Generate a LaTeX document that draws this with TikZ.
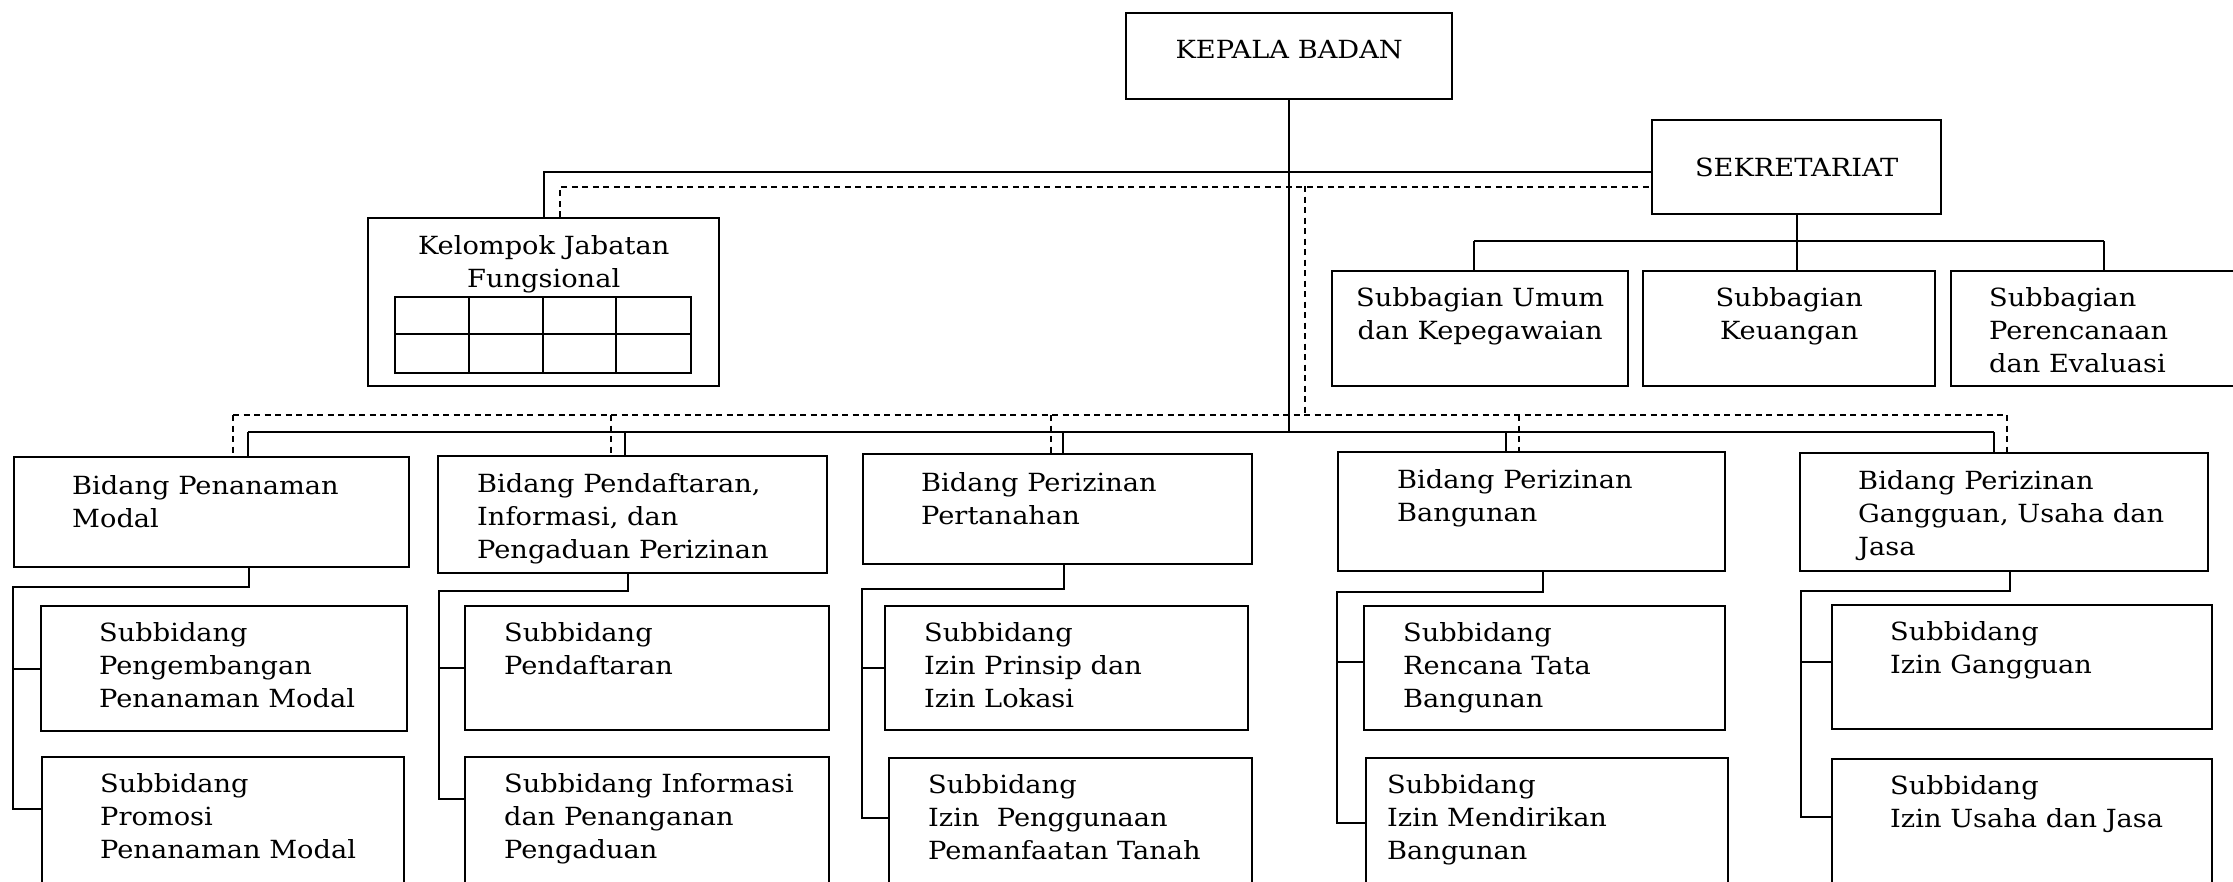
\documentclass[tikz,border=0pt]{standalone}
\usepackage{fontspec}
\setmainfont{DejaVu Serif}[FakeStretch=1.09]
\usetikzlibrary{positioning, calc}
\tikzstyle{kotak} = [rectangle, draw=black, line width=2.4pt, anchor=north west, inner sep=0pt]
\tikzstyle{isi} = [anchor=north west, align=left, inner sep=0pt, font=\fontsize{25}{33}\selectfont]
\tikzstyle{tengah} = [anchor=north, align=center, inner sep=0pt, font=\fontsize{25}{33}\selectfont]
\tikzstyle{garis} = [line width=2pt]
\tikzstyle{putus} = [line width=2pt, dash pattern=on 6pt off 4.5pt]

\begin{document}
\begin{tikzpicture}[x=1pt, y=-1pt]
    \useasboundingbox (0,0) rectangle (2233,881);

    % pimpinan
    \node (kb) [kotak, minimum width=326pt, minimum height=86pt, font=\fontsize{25}{33}\selectfont, text height=18pt, text depth=14pt] at (1125,12) {KEPALA BADAN};
    \node (sek) [kotak, minimum width=289pt, minimum height=94pt, font=\fontsize{25}{33}\selectfont] at (1651,119) {SEKRETARIAT};

    % kelompok jabatan fungsional
    \node (kjf) [kotak, minimum width=351pt, minimum height=168pt] at (367,217) {};
    \node (kjfT) [tengah] at ($(kjf.north)+(0,18)$) {Kelompok Jabatan\\Fungsional};
    \draw[line width=2.4pt] (395,297) rectangle (691,373);
    \draw[line width=2pt] (395,334) -- (691,334);
    \foreach \x in {469,543,616}
        \draw[line width=2pt] (\x,297) -- (\x,373);

    % subbagian
    \node (sbu) [kotak, minimum width=296pt, minimum height=115pt] at (1331,270) {};
    \node (sbuT) [tengah] at ($(sbu.north)+(0,17)$) {Subbagian Umum\\dan Kepegawaian};
    \node (sbk) [kotak, minimum width=292pt, minimum height=115pt] at (1642,270) {};
    \node (sbkT) [tengah] at ($(sbk.north)+(0,17)$) {Subbagian\\Keuangan};
    \node (sbp) [kotak, minimum width=295pt, minimum height=115pt] at (1950,270) {};
    \node (sbpT) [isi] at ($(sbp.north west)+(39,17)$) {Subbagian\\Perencanaan\\dan Evaluasi};

    % bidang
    \node (bpm) [kotak, minimum width=395pt, minimum height=110pt] at (13,456) {};
    \node (bpmT) [isi] at ($(bpm.north west)+(59,19)$) {Bidang Penanaman\\Modal};
    \node (bpp) [kotak, minimum width=389pt, minimum height=117pt] at (437,455) {};
    \node (bppT) [isi] at ($(bpp.north west)+(40,18)$) {Bidang Pendaftaran,\\Informasi, dan\\Pengaduan Perizinan};
    \node (bpt) [kotak, minimum width=389pt, minimum height=110pt] at (862,453) {};
    \node (bptT) [isi] at ($(bpt.north west)+(59,19)$) {Bidang Perizinan\\Pertanahan};
    \node (bpb) [kotak, minimum width=387pt, minimum height=119pt] at (1337,451) {};
    \node (bpbT) [isi] at ($(bpb.north west)+(60,18)$) {Bidang Perizinan\\Bangunan};
    \node (bpg) [kotak, minimum width=408pt, minimum height=118pt] at (1799,452) {};
    \node (bpgT) [isi] at ($(bpg.north west)+(59,18)$) {Bidang Perizinan\\Gangguan, Usaha dan\\Jasa};

    % subbidang
    \node (sb11) [kotak, minimum width=366pt, minimum height=125pt] at (40,605) {};
    \node (sb11T) [isi] at ($(sb11.north west)+(59,17)$) {Subbidang\\Pengembangan\\Penanaman Modal};
    \node (sb12) [kotak, minimum width=362pt, minimum height=130pt] at (41,756) {};
    \node (sb12T) [isi] at ($(sb12.north west)+(59,17)$) {Subbidang\\Promosi\\Penanaman Modal};
    \node (sb21) [kotak, minimum width=364pt, minimum height=124pt] at (464,605) {};
    \node (sb21T) [isi] at ($(sb21.north west)+(40,17)$) {Subbidang\\Pendaftaran};
    \node (sb22) [kotak, minimum width=364pt, minimum height=130pt] at (464,756) {};
    \node (sb22T) [isi] at ($(sb22.north west)+(40,17)$) {Subbidang Informasi\\dan Penanganan\\Pengaduan};
    \node (sb31) [kotak, minimum width=363pt, minimum height=124pt] at (884,605) {};
    \node (sb31T) [isi] at ($(sb31.north west)+(40,17)$) {Subbidang\\Izin Prinsip dan\\Izin Lokasi};
    \node (sb32) [kotak, minimum width=363pt, minimum height=129pt] at (888,757) {};
    \node (sb32T) [isi] at ($(sb32.north west)+(40,17)$) {Subbidang\\Izin~ Penggunaan\\Pemanfaatan Tanah};
    \node (sb41) [kotak, minimum width=361pt, minimum height=124pt] at (1363,605) {};
    \node (sb41T) [isi] at ($(sb41.north west)+(40,17)$) {Subbidang\\Rencana Tata\\Bangunan};
    \node (sb42) [kotak, minimum width=362pt, minimum height=129pt] at (1365,757) {};
    \node (sb42T) [isi] at ($(sb42.north west)+(22,17)$) {Subbidang\\Izin Mendirikan\\Bangunan};
    \node (sb51) [kotak, minimum width=380pt, minimum height=124pt] at (1831,604) {};
    \node (sb51T) [isi] at ($(sb51.north west)+(59,17)$) {Subbidang\\Izin Gangguan};
    \node (sb52) [kotak, minimum width=380pt, minimum height=128pt] at (1831,758) {};
    \node (sb52T) [isi] at ($(sb52.north west)+(59,17)$) {Subbidang\\Izin Usaha dan Jasa};

    % garis komando
    \coordinate (g1) at (248,432);
    \coordinate (g2) at (625,432);
    \coordinate (g3) at (1063,432);
    \coordinate (g4) at (1506,432);
    \coordinate (g5) at (1994,432);
    \draw[garis] (kb.south) -- (kb.south |- g1);
    \draw[garis] (g1) -- (g5);
    \foreach \g/\b in {g1/bpm, g2/bpp, g3/bpt, g4/bpb, g5/bpg}
        \draw[garis] (\g) -- (\g |- \b.north);
    \draw[garis] (kjf.north) |- ([yshift=-5pt]sek.west);

    % garis koordinasi
    \coordinate (p1) at (233,415);
    \coordinate (p2) at (611,415);
    \coordinate (p3) at (1051,415);
    \coordinate (p4) at (1519,415);
    \coordinate (p5) at (2007,415);
    \coordinate (q) at (1305,186);
    \draw[putus] (p1) -- (p5);
    \foreach \p/\b in {p1/bpm, p2/bpp, p3/bpt, p4/bpb, p5/bpg}
        \draw[putus] (\p) -- (\p |- \b.north);
    \draw[putus] ([xshift=16pt]kjf.north) |- ([yshift=-20pt]sek.west);
    \draw[putus] (q) -- (q |- p1);

    % sekretariat
    \coordinate (s1) at (1474,241);
    \coordinate (s3) at (2104,241);
    \draw[garis] (sek.south) -- (sek.south |- sbk.north);
    \draw[garis] (s1) -- (s3);
    \draw[garis] (s1) -- (s1 |- sbu.north);
    \draw[garis] (s3) -- (s3 |- sbp.north);

    % bidang ke subbidang
    \draw[garis] ([xshift=37.5pt]bpm.south) |- (13,587) |- ([yshift=13pt]sb12.west);
    \draw[garis] (13,587) |- (sb11.west);
    \draw[garis] ([xshift=-4.5pt]bpp.south) |- (439,591) |- ([yshift=23pt]sb22.west);
    \draw[garis] (439,591) |- (sb21.west);
    \draw[garis] ([xshift=6.5pt]bpt.south) |- (862,589) |- ([yshift=5pt]sb32.west);
    \draw[garis] (862,589) |- (sb31.west);
    \draw[garis] ([xshift=11.5pt]bpb.south) |- (1337,592) |- (sb42.west);
    \draw[garis] (1337,592) |- ([yshift=6pt]sb41.west);
    \draw[garis] ([xshift=6pt]bpg.south) |- (1801,591) |- ([yshift=6pt]sb52.west);
    \draw[garis] (1801,591) |- ([yshift=5pt]sb51.west);
\end{tikzpicture}
\end{document}
